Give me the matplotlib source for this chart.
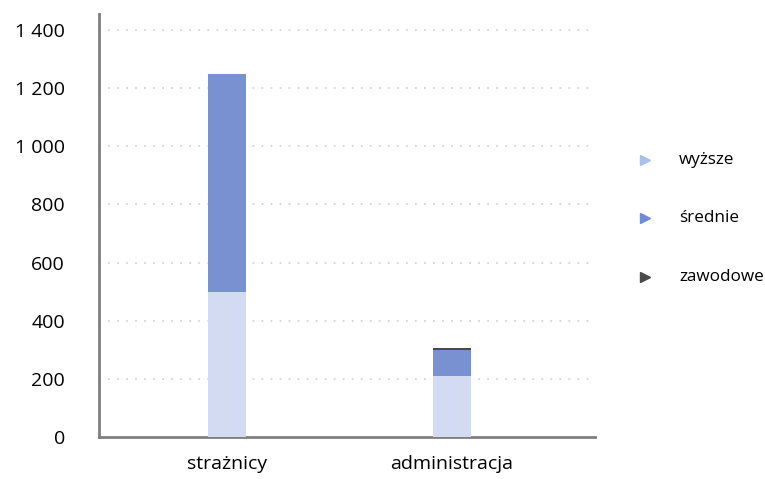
import matplotlib
matplotlib.use("Agg")
import matplotlib.pyplot as plt
from matplotlib.lines import Line2D

categories = ["strażnicy", "administracja"]
series_names = ["wyższe", "średnie", "zawodowe"]
wyzsze = [500, 210]
srednie = [748, 90]
zawodowe = [0, 6]
yticks = [0, 200, 400, 600, 800, 1000, 1200, 1400]
ytick_labels = ["0", "200", "400", "600", "800", "1 000", "1 200", "1 400"]

bar_colors = ["#d3dbf2", "#7891d0", "#4a4a4a"]
legend_colors = ["#a9c1e8", "#6f8bd4", "#4a4a4a"]

plt.rcParams['font.family'] = ['Open Sans', 'DejaVu Sans']

fig = plt.figure(figsize=(7.65, 4.79), dpi=100)
ax = fig.add_axes([99/765, 1-437/479, (595-99)/765, (437-14)/479])

x = list(range(len(categories)))
w = 0.17
bottom = [0]*len(categories)
for vals, c in zip([wyzsze, srednie, zawodowe], bar_colors):
    ax.bar(x, vals, w, bottom=bottom, color=c, zorder=3)
    bottom = [b+v for b, v in zip(bottom, vals)]

ax.set_xlim(-0.569, 1.636)
ax.set_ylim(0, 1455)
ax.set_yticks(yticks)
ax.set_yticklabels(ytick_labels)
ax.set_xticks(x)
ax.set_xticklabels(categories)
for t in yticks[1:]:
    ax.axhline(t, color="#d4d4d4", linestyle=(0, (1, 4)), linewidth=1.3, zorder=1)

for s in ["top", "right"]:
    ax.spines[s].set_visible(False)
for s in ["left", "bottom"]:
    ax.spines[s].set_color("#7f7f7f")
    ax.spines[s].set_linewidth(2)
ax.tick_params(axis="both", length=0, labelsize=14, colors="#000000")
ax.tick_params(axis="y", pad=24.5)
ax.tick_params(axis="x", pad=13)
for lbl in ax.get_yticklabels():
    lbl.set_horizontalalignment("right")

# legend
ys = [160, 218, 277]
for name, c, yy in zip(series_names, legend_colors, ys):
    fy = 1 - yy/479
    fig.lines.append(Line2D([645/765], [fy], marker=">", markersize=7, color=c,
                            linestyle="none", transform=fig.transFigure))
    fig.text(679/765, fy, name, fontsize=12.3, va="center", ha="left")

fig.savefig("out.png", dpi=100)
